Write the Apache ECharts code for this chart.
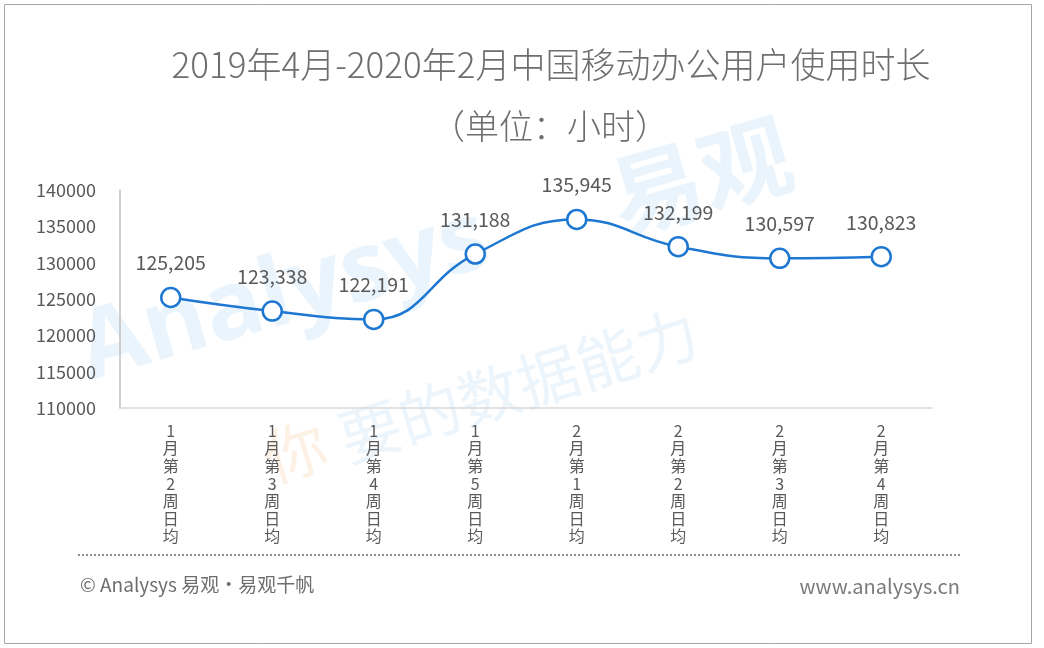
<!DOCTYPE html>
<html>
<head>
<meta charset="utf-8">
<script src="https://cdn.jsdelivr.net/npm/echarts@6/dist/echarts.min.js"></script>
<style>
html,body{margin:0;padding:0;background:#fff;}
#main{width:1044px;height:648px;}
</style>
</head>
<body>
<div id="main"></div>
<script>
var categories = ['1月第2周日均','1月第3周日均','1月第4周日均','1月第5周日均','2月第1周日均','2月第2周日均','2月第3周日均','2月第4周日均'];
var values = [125205, 123338, 122191, 131188, 135945, 132199, 130597, 130823];
var yTicks = [110000, 115000, 120000, 125000, 130000, 135000, 140000];
var titleText = '2019年4月-2020年2月中国移动办公用户使用时长';
var subtitleText = '（单位：小时）';

var FONT = '"Noto Sans CJK SC", "Noto Sans", sans-serif';
var chart = echarts.init(document.getElementById('main'));
chart.setOption({
  backgroundColor: '#ffffff',
  animation: false,
  title: [
    {text: titleText, left: 546, top: 42, textAlign: 'center',
     textStyle: {fontFamily: FONT, fontSize: 35, fontWeight: 300, color: '#6e6e6e'}},
    {text: subtitleText, left: 545, top: 104, textAlign: 'center',
     textStyle: {fontFamily: FONT, fontSize: 34, fontWeight: 300, color: '#6e6e6e'}}
  ],
  graphic: [
    {type: 'rect', z: -10, shape: {x: 4.5, y: 4.5, width: 1027, height: 639},
     style: {fill: 'none', stroke: '#a6a6a6', lineWidth: 1}},
    {type: 'text', z: -5, x: 95, y: 400, rotation: 0.28,
     style: {text: 'Analysys', font: 'bold 96px "Open Sans", sans-serif', fill: '#eaf4fc', textVerticalAlign: 'bottom'}},
    {type: 'text', z: -5, x: 625, y: 245, rotation: 0.28,
     style: {text: '易观', font: 'bold 92px "Noto Sans CJK SC", sans-serif', fill: '#eaf4fc', textVerticalAlign: 'bottom'}},
    {type: 'text', z: -5, x: 275, y: 490, rotation: 0.3,
     style: {text: '你', font: '62px "Noto Sans CJK SC", sans-serif', fill: '#fdf1e6', textVerticalAlign: 'bottom'}},
    {type: 'text', z: -5, x: 350, y: 470, rotation: 0.3,
     style: {text: '要的数据能力', font: '62px "Noto Sans CJK SC", sans-serif', fill: '#edf5fc', textVerticalAlign: 'bottom'}},
    {type: 'line', shape: {x1: 78, y1: 555, x2: 962, y2: 555},
     style: {stroke: '#8c8c8c', lineWidth: 2, lineDash: [2, 2]}},
    {type: 'text', x: 80, y: 585,
     style: {text: '© Analysys 易观·易观千帆', font: '19px ' + FONT, fill: '#6e6e6e', textVerticalAlign: 'middle'}},
    {type: 'text', x: 960, y: 586,
     style: {text: 'www.analysys.cn', font: '20px ' + FONT, fill: '#7a7a7a', textAlign: 'right', textVerticalAlign: 'middle'}}
  ],
  grid: {left: 120, right: 112, top: 190, bottom: 240, containLabel: false},
  xAxis: {
    type: 'category',
    data: categories,
    boundaryGap: true,
    axisLine: {show: true, lineStyle: {color: '#d9d9d9', width: 1.5}},
    axisTick: {show: false},
    axisLabel: {
      interval: 0, margin: 14, color: '#595959', fontSize: 16, fontFamily: FONT,
      lineHeight: 17.6, verticalAlign: 'top',
      formatter: function (v) { return v.split('').join('\n'); }
    }
  },
  yAxis: {
    type: 'value',
    min: yTicks[0], max: yTicks[yTicks.length - 1], interval: 5000,
    axisLine: {show: true, lineStyle: {color: '#bfbfbf', width: 1.5}},
    axisTick: {show: false},
    splitLine: {show: false},
    axisLabel: {color: '#595959', fontSize: 18, fontFamily: FONT, margin: 24,
      formatter: function (v) { return String(v); }}
  },
  series: [{
    type: 'line',
    data: values,
    smooth: 0.45,
    symbol: 'circle',
    symbolSize: 19,
    lineStyle: {color: '#1e78d2', width: 2.5},
    itemStyle: {color: '#ffffff', borderColor: '#1e78d2', borderWidth: 2.5},
    label: {
      show: true, position: 'top', distance: 14,
      color: '#595959', fontSize: 19.5, fontFamily: FONT,
      formatter: function (p) { return p.value.toLocaleString('en-US'); }
    },
    z: 5
  }]
});
</script>
</body>
</html>
